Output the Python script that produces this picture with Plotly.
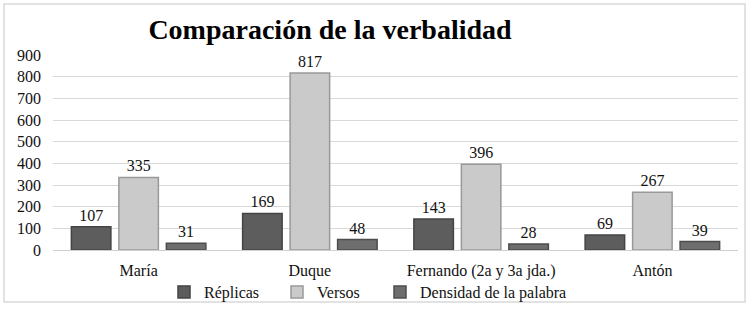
import plotly.graph_objects as go

categories = ["María", "Duque", "Fernando (2a y 3a jda.)", "Antón"]
replicas = [107, 169, 143, 69]
versos = [335, 817, 396, 267]
densidad = [31, 48, 28, 39]
y_ticks = [0, 100, 200, 300, 400, 500, 600, 700, 800, 900]

FONT = "Liberation Serif, Times New Roman, serif"

fig = go.Figure()
series = [
    ("Réplicas", replicas, "#5e5d5d", "#454444", 68),
    ("Versos", versos, "#cbcaca", "#9a9999", 58),
    ("Densidad de la palabra", densidad, "#6f6e6e", "#4e4d4d", None),
]
for name, vals, col, line, lw in series:
    kw = {}
    if lw:
        kw["legendwidth"] = lw
    fig.add_trace(go.Bar(
        name=name, x=categories, y=vals,
        marker=dict(color=col, line=dict(color=line, width=1.5)),
        text=[str(v) for v in vals], textposition="outside",
        textfont=dict(family=FONT, size=16, color="#111111"),
        cliponaxis=False, **kw
    ))

W, H = 750, 310
L, R, T, B = 53, 12, 55, 60
pw, ph = W - L - R, H - T - B

def px(x):
    return (x - L) / pw

def py(y):
    return (H - B - y) / ph

fig.add_shape(type="rect", xref="paper", yref="paper",
              x0=px(4), x1=px(745), y0=py(302), y1=py(4),
              line=dict(color="#d9d9d9", width=1.5), layer="below")

fig.update_layout(
    width=W, height=H,
    margin=dict(l=L, r=R, t=T, b=B, autoexpand=False),
    paper_bgcolor="white", plot_bgcolor="white",
    barmode="group", bargap=0.168, bargroupgap=0.168,
    font=dict(family=FONT, size=16, color="#111111"),
    title=dict(text="<b>Comparación de la verbalidad</b>",
               font=dict(family=FONT, size=28, color="#000000"),
               xref="container", yref="container",
               x=330 / W, xanchor="center", y=1 - 29 / H, yanchor="middle"),
    showlegend=True,
    legend=dict(orientation="h", xref="container", yref="container",
                x=164 / W, xanchor="left",
                y=1 - 292 / H, yanchor="middle",
                bgcolor="rgba(0,0,0,0)",
                font=dict(family=FONT, size=16, color="#111111"),
                itemwidth=30, tracegroupgap=0),
    xaxis=dict(showgrid=False, showline=False, ticks="",
               tickfont=dict(family=FONT, size=16, color="#111111"),
               ticklabelstandoff=9),
    yaxis=dict(range=[0, 900], tickvals=y_ticks, showgrid=True,
               gridcolor="#d9d9d9", gridwidth=1, zeroline=True,
               zerolinecolor="#d0d0d0", zerolinewidth=1,
               tickfont=dict(family=FONT, size=16, color="#111111"),
               ticklabelstandoff=11),
)

fig.write_html(
    "out.html",
    config={"displayModeBar": False},
    post_script="document.body.style.margin='0';document.body.style.padding='0';",
)
